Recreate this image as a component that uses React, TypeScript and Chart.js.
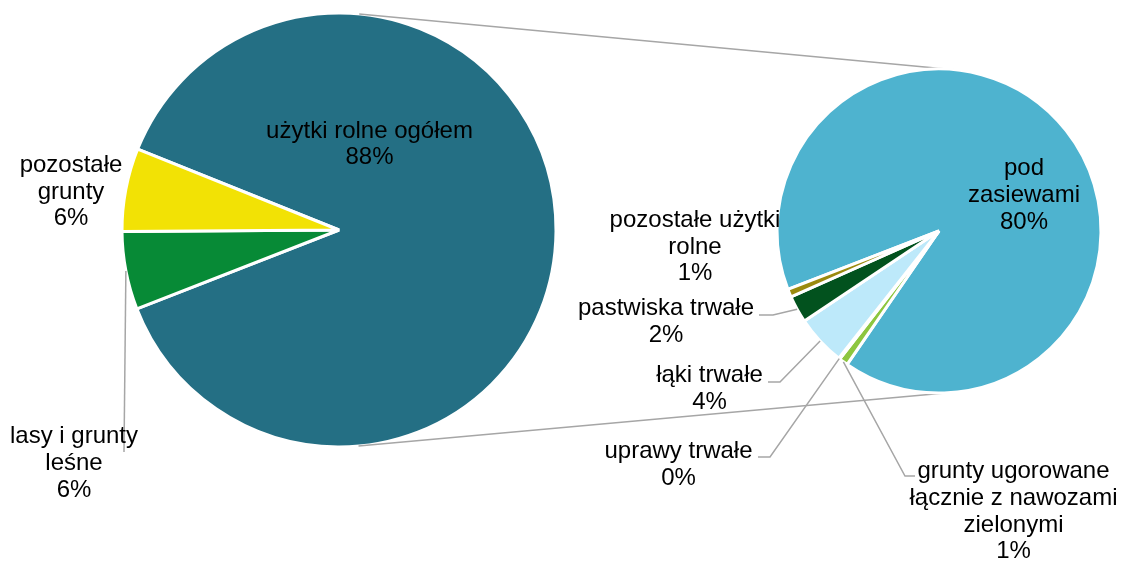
import React, { useEffect, useRef } from 'react';
import { Chart, registerables } from 'chart.js';

Chart.register(...registerables);

const W = 1122;
const H = 563;

// ---- data: main pie (share of total area, %) ----
const mainCategories: string[][] = [['użytki rolne ogółem'], ['lasy i grunty', 'leśne'], ['pozostałe', 'grunty']];
const mainValues: number[] = [88.0, 5.8, 6.2];
const mainColors: string[] = ['#246F84', '#078A36', '#F2E205'];

// ---- data: secondary pie (breakdown of "użytki rolne ogółem", % of total) ----
const subCategories: string[][] = [
  ['pod', 'zasiewami'],
  ['grunty ugorowane', 'łącznie z nawozami', 'zielonymi'],
  ['uprawy trwałe'],
  ['łąki trwałe'],
  ['pastwiska trwałe'],
  ['pozostałe użytki', 'rolne'],
];
const subValues: number[] = [79.6, 0.8, 0.1, 4.4, 2.4, 0.7];
const subColors: string[] = ['#4EB3CF', '#8DC63F', '#A5A5A5', '#BDE9FA', '#02521E', '#9A8A0E'];

// ---- layout (label anchors and leader elbows) ----
const mainLabelPos: number[][] = [[369.5, 137.5], [74, 443.3], [71, 171.7]];
const mainLeaders: (number[] | null)[] = [null, [124, 452, 124], null];
const subLabelPos: number[][] = [[1024, 175], [1013.5, 478], [678.5, 458.3], [709.5, 381.7], [666, 315], [695, 226.7]];
const subLeaders: (number[] | null)[] = [null, [905, 476, 915], [770, 457, 758], [780, 382, 768], [773, 315, 759], null];

const FONT = '24px "Liberation Sans", Arial, sans-serif';
const LINE_H = 26.8;
const LEADER_COLOR = '#A6A6A6';

function labelPlugin(id: string, cats: string[][], vals: number[], pos: number[][], leaders: (number[] | null)[]) {
  return {
    id,
    afterDatasetsDraw(chart: any) {
      const ctx = chart.ctx as CanvasRenderingContext2D;
      const arcs = chart.getDatasetMeta(0).data;
      ctx.save();
      // leader lines
      ctx.strokeStyle = LEADER_COLOR;
      ctx.lineWidth = 1.5;
      leaders.forEach((ld, i) => {
        if (!ld) return;
        const a: any = arcs[i];
        const mid = (a.startAngle + a.endAngle) / 2;
        const sx = a.x + a.outerRadius * Math.cos(mid);
        const sy = a.y + a.outerRadius * Math.sin(mid);
        ctx.beginPath();
        ctx.moveTo(sx, sy);
        ctx.lineTo(ld[0], ld[1]);
        ctx.lineTo(ld[2], ld[1]);
        ctx.stroke();
      });
      // texts
      ctx.font = FONT;
      ctx.fillStyle = '#000000';
      ctx.textAlign = 'center';
      ctx.textBaseline = 'alphabetic';
      cats.forEach((lines, i) => {
        const all = [...lines, Math.round(vals[i]) + '%'];
        all.forEach((t, k) => {
          ctx.fillText(t, pos[i][0], pos[i][1] + k * LINE_H);
        });
      });
      ctx.restore();
    },
  };
}

function connectorPlugin(getMain: () => any) {
  return {
    id: 'connectors',
    beforeDatasetsDraw(chart: any) {
      const main = getMain();
      if (!main) return;
      const a: any = main.getDatasetMeta(0).data[0];
      const b: any = chart.getDatasetMeta(0).data[0];
      if (!a || !b) return;
      const dx = b.x - a.x;
      const dy = b.y - a.y;
      const D = Math.hypot(dx, dy);
      const base = Math.atan2(dy, dx);
      const phi = Math.acos((a.outerRadius - b.outerRadius) / D);
      const ctx = chart.ctx as CanvasRenderingContext2D;
      ctx.save();
      ctx.strokeStyle = LEADER_COLOR;
      ctx.lineWidth = 1.5;
      [base - phi, base + phi].forEach((t) => {
        ctx.beginPath();
        ctx.moveTo(a.x + a.outerRadius * Math.cos(t), a.y + a.outerRadius * Math.sin(t));
        ctx.lineTo(b.x + b.outerRadius * Math.cos(t), b.y + b.outerRadius * Math.sin(t));
        ctx.stroke();
      });
      ctx.restore();
    },
  };
}

export default function App() {
  const ref1 = useRef<HTMLCanvasElement>(null);
  const ref2 = useRef<HTMLCanvasElement>(null);

  useEffect(() => {
    const c1 = new Chart(ref1.current as HTMLCanvasElement, {
      type: 'pie',
      data: {
        labels: mainCategories.map((c) => c.join(' ')),
        datasets: [
          {
            data: mainValues,
            backgroundColor: mainColors,
            borderColor: '#FFFFFF',
            borderWidth: 3,
            radius: 217,
            hoverOffset: 0,
          } as any,
        ],
      },
      options: {
        responsive: false,
        maintainAspectRatio: false,
        animation: false,
        events: [],
        rotation: 291.9,
        layout: { padding: { left: 0, right: W - 678, top: 0, bottom: H - 460 } },
        plugins: { legend: { display: false }, tooltip: { enabled: false } },
      },
      plugins: [labelPlugin('mainLabels', mainCategories, mainValues, mainLabelPos, mainLeaders)],
    });

    const c2 = new Chart(ref2.current as HTMLCanvasElement, {
      type: 'pie',
      data: {
        labels: subCategories.map((c) => c.join(' ')),
        datasets: [
          {
            data: subValues,
            backgroundColor: subColors,
            borderColor: '#FFFFFF',
            borderWidth: 3,
            radius: 162,
            hoverOffset: 0,
          } as any,
        ],
      },
      options: {
        responsive: false,
        maintainAspectRatio: false,
        animation: false,
        events: [],
        rotation: 248.9,
        layout: { padding: { left: 756, right: 0, top: 0, bottom: H - 462 } },
        plugins: { legend: { display: false }, tooltip: { enabled: false } },
      },
      plugins: [
        connectorPlugin(() => c1),
        labelPlugin('subLabels', subCategories, subValues, subLabelPos, subLeaders),
      ],
    });

    return () => {
      c2.destroy();
      c1.destroy();
    };
  }, []);

  return (
    <div style={{ position: 'absolute', left: 0, top: 0, width: W, height: H, background: '#FFFFFF' }}>
      <canvas ref={ref1} width={W} height={H} style={{ position: 'absolute', left: 0, top: 0 }} />
      <canvas ref={ref2} width={W} height={H} style={{ position: 'absolute', left: 0, top: 0 }} />
    </div>
  );
}
